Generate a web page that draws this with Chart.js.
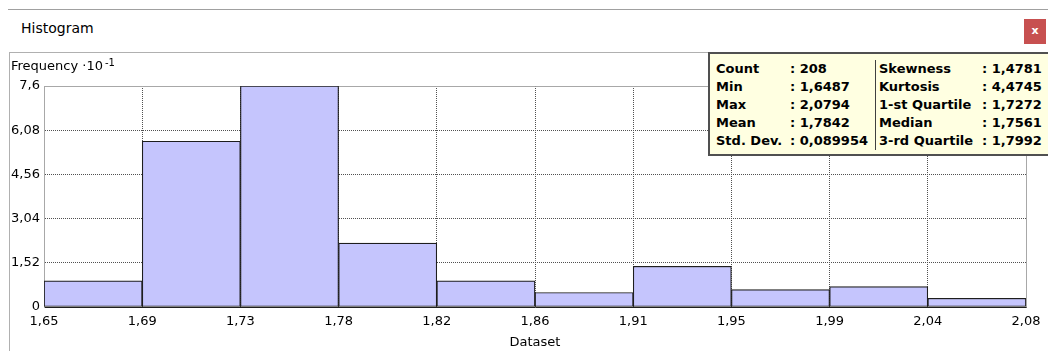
<!DOCTYPE html>
<html>
<head>
<meta charset="utf-8">
<script src="https://cdn.jsdelivr.net/npm/chart.js@4/dist/chart.umd.min.js"></script>
<style>
  html, body { margin: 0; padding: 0; background: #fff; }
  body { width: 1048px; height: 351px; position: relative; overflow: hidden;
         font-family: "DejaVu Sans", sans-serif; color: #000; }
  .topline { position: absolute; left: 8px; top: 9px; width: 1040px; height: 1px; background: #a0a0a0; }
  .wintitle { position: absolute; left: 21px; top: 20px; font-size: 14px; line-height: 16px; }
  .close { position: absolute; left: 1024px; top: 19px; width: 22px; height: 25px; background: #c75050;
           color: #fff; font-weight: bold; font-size: 11px; line-height: 24px; text-align: center; }
  .panel { position: absolute; left: 9px; top: 52px; width: 1039px; height: 299px;
           border-top: 1px solid #b0b0b0; border-left: 1px solid #b0b0b0; box-sizing: border-box; }
  #wrap { position: absolute; left: 10px; top: 53px; width: 1038px; height: 298px; }
  .ylab { position: absolute; left: 11px; top: 58px; font-size: 13px; line-height: 15px; white-space: nowrap; }
  .ylab sup { font-size: 10px; position: relative; top: -3px; vertical-align: top; margin-left: 2px; }
  .stats { position: absolute; left: 708px; top: 52px; width: 340px; height: 104px; box-sizing: border-box;
           background: #ffffe1; border: 2px solid #505050; border-right: none; }
  .stats .row { position: absolute; font-weight: bold; font-size: 13px; line-height: 18px; white-space: nowrap; }
  .stats .div { position: absolute; left: 165px; top: 6px; width: 1px; height: 90px; background: #404040; }
</style>
</head>
<body>
<div class="topline"></div>
<div class="wintitle">Histogram</div>
<div class="close">x</div>
<div class="panel"></div>
<div id="wrap"><canvas id="hist"></canvas></div>
<div class="ylab">Frequency ·10<sup>-1</sup></div>
<div class="stats" id="stats"><div class="div"></div></div>

<script>
// Bin counts in units of 10 (Frequency · 10^-1)
const binFreq = [0.9, 5.7, 7.6, 2.2, 0.9, 0.5, 1.4, 0.6, 0.7, 0.3];
// Bin edge labels along the Dataset axis
const edgeLabels = ['1,65', '1,69', '1,73', '1,78', '1,82', '1,86', '1,91', '1,95', '1,99', '2,04', '2,08'];
// Frequency axis ticks and their labels
const yTickValues = [0, 1.52, 3.04, 4.56, 6.08, 7.6];
const yTickLabels = ['0', '1,52', '3,04', '4,56', '6,08', '7,6'];
// Summary statistics panel
const statNamesLeft = ['Count', 'Min', 'Max', 'Mean', 'Std. Dev.'];
const statValuesLeft = ['208', '1,6487', '2,0794', '1,7842', '0,089954'];
const statNamesRight = ['Skewness', 'Kurtosis', '1-st Quartile', 'Median', '3-rd Quartile'];
const statValuesRight = ['1,4781', '4,4745', '1,7272', '1,7561', '1,7992'];

// Fill the statistics box
const stats = document.getElementById('stats');
function addCell(text, left, row) {
  const d = document.createElement('div');
  d.className = 'row';
  d.textContent = text;
  d.style.left = left + 'px';
  d.style.top = (6 + row * 17.9) + 'px';
  stats.appendChild(d);
}
statNamesLeft.forEach((n, i) => {
  addCell(n, 6, i);
  addCell(': ' + statValuesLeft[i], 80, i);
});
statNamesRight.forEach((n, i) => {
  addCell(n, 169, i);
  addCell(': ' + statValuesRight[i], 272, i);
});

Chart.defaults.font.family = '"DejaVu Sans", sans-serif';
Chart.defaults.font.size = 13;
Chart.defaults.color = '#000';

const binNames = binFreq.map((_, i) => edgeLabels[i] + '–' + edgeLabels[i + 1]);
const edgeCount = edgeLabels.length - 1;

// Light frame along the top and right of the plot
const frame = {
  id: 'frame',
  beforeDatasetsDraw(chart) {
    const { ctx, chartArea: a } = chart;
    ctx.save();
    ctx.strokeStyle = '#a8a8a8';
    ctx.lineWidth = 1;
    ctx.beginPath();
    ctx.moveTo(Math.round(a.left) + 0.5, Math.round(a.top) + 0.5);
    ctx.lineTo(Math.round(a.right) + 0.5, Math.round(a.top) + 0.5);
    ctx.lineTo(Math.round(a.right) + 0.5, Math.round(a.bottom) + 0.5);
    ctx.stroke();
    ctx.restore();
  }
};

new Chart(document.getElementById('hist'), {
  type: 'bar',
  data: {
    labels: binNames,
    datasets: [{
      data: binFreq,
      backgroundColor: '#c5c5fd',
      borderColor: '#1e1e1e',
      borderWidth: 1.2,
      borderSkipped: false,
      barPercentage: 1,
      categoryPercentage: 1
    }]
  },
  options: {
    responsive: true,
    maintainAspectRatio: false,
    animation: false,
    layout: { padding: { top: 33, right: 22, left: 0, bottom: 0 } },
    plugins: { legend: { display: false }, tooltip: { enabled: false } },
    scales: {
      x: { display: false },
      edges: {
        type: 'linear',
        position: 'bottom',
        axis: 'x',
        min: 0,
        max: edgeCount,
        offset: false,
        afterBuildTicks: s => { s.ticks = edgeLabels.map((_, i) => ({ value: i })); },
        afterFit: s => { s.height = 44; },
        ticks: {
          padding: 7,
          maxRotation: 0,
          autoSkip: false,
          callback: (v, i) => edgeLabels[i]
        },
        grid: {
          offset: false,
          drawTicks: false,
          lineWidth: 1,
          color: c => (c.index === 0 || c.index === edgeCount) ? 'rgba(0,0,0,0)' : '#505050'
        },
        border: { display: true, color: '#1e1e1e', dash: [1, 1] },
        title: { display: true, text: 'Dataset', padding: { top: 0, bottom: 1 } }
      },
      y: {
        min: 0,
        max: 7.6,
        afterBuildTicks: s => { s.ticks = yTickValues.map(v => ({ value: v })); },
        afterFit: s => { s.width = 34; },
        ticks: {
          padding: 4,
          callback: (v, i) => yTickLabels[i]
        },
        grid: {
          drawTicks: false,
          lineWidth: 1,
          color: c => (c.index === 0 || c.index === yTickValues.length - 1) ? 'rgba(0,0,0,0)' : '#505050'
        },
        border: { display: true, color: '#a8a8a8', dash: [1, 1] }
      }
    }
  },
  plugins: [frame]
});
</script>
</body>
</html>
